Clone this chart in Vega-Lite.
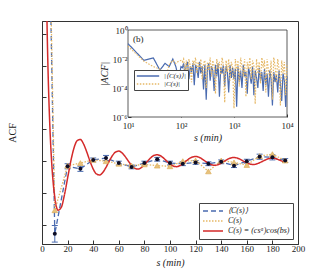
{
 "$schema": "https://vega.github.io/schema/vega-lite/v6.json",
 "width": 256, "height": 223,
 "autosize": {"type": "none"},
 "padding": {"left": 42, "top": 21, "right": 32, "bottom": 31},
 "background": "white",
 "config": {
  "font": "Liberation Serif",
  "view": {"stroke": "#333", "strokeWidth": 1},
  "axis": {"grid": false, "labelOverlap": false, "labelSeparation": -30, "labelFlush": false, "labelFont": "Liberation Serif", "titleFont": "Liberation Serif", "labelFontSize": 9, "titleFontSize": 10, "labelColor": "#222", "titleColor": "#222", "domainColor": "#333", "tickColor": "#333", "tickSize": -4, "labelPadding": 4, "titleFontWeight": "normal"},
  "legend": {"labelFont": "Liberation Serif", "labelFontSize": 8, "labelFontStyle": "italic", "labelColor": "#222", "symbolType": "stroke", "symbolSize": 400, "symbolStrokeWidth": 1.5, "strokeColor": "#444", "fillColor": "white", "padding": 3, "rowPadding": 0, "labelOffset": 4}
 },
 "datasets": {
  "yticks": [
   {"v": -0.1, "t": "-0.1"}, {"v": -0.05, "t": "-0.05"}, {"v": 0, "t": "0"}, {"v": 0.05, "t": "0.05"}, {"v": 0.1, "t": "0.1"}, {"v": 0.15, "t": "0.15"}, {"v": 0.2, "t": "0.2"}
  ],
  "main": [
   {"s": 0, "m": 1, "lo": null, "hi": null, "c": 1},
   {"s": 10, "m": -0.114, "lo": -0.127, "hi": -0.101, "c": -0.077},
   {"s": 20, "m": -0.008, "lo": -0.012, "hi": -0.004, "c": -0.007},
   {"s": 30, "m": -0.012, "lo": -0.016, "hi": -0.008, "c": -0.003},
   {"s": 40, "m": 0.002, "lo": -0.001, "hi": 0.005, "c": 0.002},
   {"s": 50, "m": 0.005, "lo": 0.001, "hi": 0.009, "c": 0.0},
   {"s": 60, "m": -0.003, "lo": -0.006, "hi": 0.0, "c": -0.004},
   {"s": 70, "m": -0.009, "lo": -0.012, "hi": -0.006, "c": -0.007},
   {"s": 80, "m": -0.003, "lo": -0.006, "hi": 0.0, "c": -0.005},
   {"s": 90, "m": 0.003, "lo": 0.0, "hi": 0.006, "c": -0.007},
   {"s": 100, "m": -0.003, "lo": -0.006, "hi": 0.0, "c": -0.008},
   {"s": 110, "m": -0.004, "lo": -0.007, "hi": -0.001, "c": 0.0},
   {"s": 120, "m": -0.002, "lo": -0.005, "hi": 0.001, "c": 0.001},
   {"s": 130, "m": -0.004, "lo": -0.007, "hi": -0.001, "c": -0.016},
   {"s": 140, "m": -0.001, "lo": -0.004, "hi": 0.002, "c": 0.001},
   {"s": 150, "m": -0.007, "lo": -0.01, "hi": -0.004, "c": -0.002},
   {"s": 160, "m": 0.0, "lo": -0.003, "hi": 0.003, "c": -0.006},
   {"s": 170, "m": 0.007, "lo": 0.003, "hi": 0.011, "c": 0.008},
   {"s": 180, "m": 0.006, "lo": 0.002, "hi": 0.01, "c": 0.011},
   {"s": 190, "m": 0.001, "lo": -0.002, "hi": 0.004, "c": 0.001}
  ],
  "fit": [
   {"s": 2.5, "f": 0.452}, {"s": 3, "f": 0.346}, {"s": 3.5, "f": 0.268}, {"s": 4, "f": 0.208}, {"s": 4.5, "f": 0.1607}, {"s": 5, "f": 0.1217}, {"s": 6, "f": 0.0616}, {"s": 7.5, "f": 0}, {"s": 9, "f": -0.0394}, {"s": 10, "f": -0.0568}, {"s": 12.5, "f": -0.077}, {"s": 15, "f": -0.0727}, {"s": 17.5, "f": -0.0532}, {"s": 20, "f": -0.0265}, {"s": 22.5, "f": 0}, {"s": 25, "f": 0.0207}, {"s": 27.5, "f": 0.0323}, {"s": 30, "f": 0.034}, {"s": 32.5, "f": 0.0269}, {"s": 35, "f": 0.0143}, {"s": 37.5, "f": 0}, {"s": 40, "f": -0.0124}, {"s": 42.5, "f": -0.02}, {"s": 45, "f": -0.0217}, {"s": 47.5, "f": -0.0177}, {"s": 50, "f": -0.0097}, {"s": 52.5, "f": 0}, {"s": 55, "f": 0.0087}, {"s": 57.5, "f": 0.0144}, {"s": 60, "f": 0.0158}, {"s": 62.5, "f": 0.0131}, {"s": 65, "f": 0.0072}, {"s": 67.5, "f": 0}, {"s": 70, "f": -0.0067}, {"s": 72.5, "f": -0.0111}, {"s": 75, "f": -0.0124}, {"s": 77.5, "f": -0.0103}, {"s": 80, "f": -0.0058}, {"s": 82.5, "f": 0}, {"s": 85, "f": 0.0054}, {"s": 87.5, "f": 0.0091}, {"s": 90, "f": 0.0101}, {"s": 92.5, "f": 0.0085}, {"s": 95, "f": 0.0048}, {"s": 97.5, "f": 0}, {"s": 100, "f": -0.0045}, {"s": 102.5, "f": -0.0076}, {"s": 105, "f": -0.0086}, {"s": 107.5, "f": -0.0072}, {"s": 110, "f": -0.0041}, {"s": 112.5, "f": 0}, {"s": 115, "f": 0.0039}, {"s": 117.5, "f": 0.0065}, {"s": 120, "f": 0.0074}, {"s": 122.5, "f": 0.0063}, {"s": 125, "f": 0.0035}, {"s": 127.5, "f": 0}, {"s": 130, "f": -0.0034}, {"s": 132.5, "f": -0.0057}, {"s": 135, "f": -0.0065}, {"s": 137.5, "f": -0.0055}, {"s": 140, "f": -0.0031}, {"s": 142.5, "f": 0}, {"s": 145, "f": 0.003}, {"s": 147.5, "f": 0.0051}, {"s": 150, "f": 0.0058}, {"s": 152.5, "f": 0.0049}, {"s": 155, "f": 0.0028}, {"s": 157.5, "f": 0}, {"s": 160, "f": -0.0027}, {"s": 162.5, "f": -0.0046}, {"s": 165, "f": -0.0052}, {"s": 167.5, "f": -0.0044}, {"s": 170, "f": -0.0025}, {"s": 172.5, "f": 0}, {"s": 175, "f": 0.0024}, {"s": 177.5, "f": 0.0042}, {"s": 180, "f": 0.0047}, {"s": 182.5, "f": 0.004}, {"s": 185, "f": 0.0023}, {"s": 187.5, "f": 0}, {"s": 190, "f": -0.0022}
  ],
  "ins": [
   {"s": 10, "b": 0.115, "o": 0.077}, {"s": 20, "b": 0.008, "o": 0.007}, {"s": 30, "b": 0.012, "o": 0.003}, {"s": 40, "b": 0.0017, "o": 0.002}, {"s": 50, "b": 0.005, "o": 0.0004}, {"s": 60, "b": 0.003, "o": 0.004}, {"s": 70, "b": 0.01, "o": 0.008}, {"s": 80, "b": 0.003, "o": 0.005}, {"s": 90, "b": 0.0004, "o": 0.007}, {"s": 100, "b": 0.003, "o": 0.008},
   {"s": 106, "b": 0.00251, "o": 0.00631}, {"s": 112, "b": 0.00501, "o": 0.01}, {"s": 119, "b": 0.000794, "o": 0.00126}, {"s": 126, "b": 0.00398, "o": 0.00794}, {"s": 133, "b": 0.00631, "o": 0.000501}, {"s": 141, "b": 0.000398, "o": 0.01}, {"s": 150, "b": 0.00316, "o": 0.00316}, {"s": 158, "b": 0.00126, "o": 0.000251}, {"s": 168, "b": 0.00501, "o": 0.00794}, {"s": 178, "b": 0.000158, "o": 0.00398},
   {"s": 188, "b": 0.00398, "o": 0.0126}, {"s": 200, "b": 0.002, "o": 0.001}, {"s": 211, "b": 0.000501, "o": 0.00631}, {"s": 224, "b": 0.00631, "o": 0.00251}, {"s": 237, "b": 0.001, "o": 0.01}, {"s": 251, "b": 0.00316, "o": 0.000398}, {"s": 266, "b": 0.0000794, "o": 0.00501}, {"s": 282, "b": 0.00398, "o": 0.00794}, {"s": 299, "b": 0.0000158, "o": 0.0001}, {"s": 316, "b": 0.00251, "o": 0.00631},
   {"s": 335, "b": 0.00501, "o": 0.00158}, {"s": 355, "b": 0.000316, "o": 0.0126}, {"s": 376, "b": 0.00316, "o": 0.000631}, {"s": 398, "b": 0.00158, "o": 0.00794}, {"s": 422, "b": 0.0000631, "o": 0.00316}, {"s": 447, "b": 0.00398, "o": 0.0000398}, {"s": 473, "b": 0.000631, "o": 0.01}, {"s": 501, "b": 0.00501, "o": 0.002}, {"s": 531, "b": 0.0000251, "o": 0.00631}, {"s": 562, "b": 0.00251, "o": 0.000794},
   {"s": 596, "b": 0.001, "o": 0.0126}, {"s": 631, "b": 0.00398, "o": 0.00398}, {"s": 668, "b": 0.000126, "o": 0.00001}, {"s": 708, "b": 0.00316, "o": 0.00794}, {"s": 750, "b": 0.00126, "o": 0.00126}, {"s": 794, "b": 0.0000501, "o": 0.01}, {"s": 841, "b": 0.00398, "o": 0.000316}, {"s": 891, "b": 0.000501, "o": 0.00631}, {"s": 944, "b": 0.00251, "o": 0.00251}, {"s": 1000, "b": 0.000398, "o": 0.00000398},
   {"s": 1059, "b": 0.002, "o": 0.01}, {"s": 1122, "b": 0.00000501, "o": 0.00158}, {"s": 1189, "b": 0.00316, "o": 0.00794}, {"s": 1259, "b": 0.000251, "o": 0.000126}, {"s": 1334, "b": 0.00158, "o": 0.0126}, {"s": 1413, "b": 0.0001, "o": 0.00316}, {"s": 1496, "b": 0.00398, "o": 0.000631}, {"s": 1585, "b": 0.000631, "o": 0.01}, {"s": 1679, "b": 0.00126, "o": 0.0000251}, {"s": 1778, "b": 0.0000398, "o": 0.00631},
   {"s": 1884, "b": 0.00251, "o": 0.002}, {"s": 1995, "b": 0.000794, "o": 0.0126}, {"s": 2113, "b": 0.0002, "o": 0.000398}, {"s": 2239, "b": 0.00316, "o": 0.00794}, {"s": 2371, "b": 0.0000316, "o": 0.00398}, {"s": 2512, "b": 0.00158, "o": 0.00000794}, {"s": 2661, "b": 0.000501, "o": 0.01}, {"s": 2818, "b": 0.0001, "o": 0.001}, {"s": 2985, "b": 0.00251, "o": 0.00631}, {"s": 3162, "b": 0.000316, "o": 0.0002},
   {"s": 3350, "b": 0.00126, "o": 0.0126}, {"s": 3548, "b": 0.0000631, "o": 0.00251}, {"s": 3758, "b": 0.002, "o": 0.00794}, {"s": 3981, "b": 0.000158, "o": 0.0000501}, {"s": 4217, "b": 0.001, "o": 0.01}, {"s": 4467, "b": 0.0000251, "o": 0.00158}, {"s": 4732, "b": 0.00158, "o": 0.000501}, {"s": 5012, "b": 0.000398, "o": 0.00794}, {"s": 5309, "b": 0.00000631, "o": 0.0000158}, {"s": 5623, "b": 0.00126, "o": 0.0126},
   {"s": 5957, "b": 0.000251, "o": 0.00316}, {"s": 6310, "b": 0.000794, "o": 0.000251}, {"s": 6683, "b": 0.0000501, "o": 0.01}, {"s": 7079, "b": 0.00158, "o": 0.002}, {"s": 7499, "b": 0.0002, "o": 0.00000631}, {"s": 7943, "b": 0.0000126, "o": 0.00794}, {"s": 8414, "b": 0.001, "o": 0.001}, {"s": 8913, "b": 0.000316, "o": 0.00631}, {"s": 9441, "b": 0.00000501, "o": 0.0000316}, {"s": 10000, "b": 0.000631, "o": 0.00501}
  ]
 },
 "layer": [
  {
   "encoding": {
    "x": {"field": "s", "type": "quantitative", "title": "s (min)", "scale": {"domain": [0, 200], "nice": false}, "axis": {"values": [0, 20, 40, 60, 80, 100, 120, 140, 160, 180, 200], "labelOverlap": false, "labelSeparation": -30, "title": "s (min)", "titleFontStyle": "italic", "titlePadding": 4}},
    "y": {"field": "m", "type": "quantitative", "title": "ACF", "scale": {"domain": [-0.13, 0.22], "nice": false, "zero": false}, "axis": {"values": [-0.1, -0.05, 0, 0.05, 0.1, 0.15, 0.2], "labels": false, "title": "ACF", "titlePadding": 24}}
   },
   "layer": [
    {
     "data": {"name": "main"},
     "mark": {"type": "line", "strokeWidth": 1.3, "clip": true},
     "encoding": {
      "color": {"datum": "⟨C(s)⟩", "scale": {"domain": ["⟨C(s)⟩", "C(s)", "C(s) = (csᵃ)cos(bs)"], "range": ["#4a6bb0", "#e6b866", "#d42a2a"]}, "legend": {"title": null, "orient": "bottom-right", "offset": 5, "clipHeight": 10}},
      "strokeDash": {"datum": "⟨C(s)⟩", "scale": {"domain": ["⟨C(s)⟩", "C(s)", "C(s) = (csᵃ)cos(bs)"], "range": [[5, 3], [1.5, 1.5], [1, 0]]}, "legend": {"title": null, "orient": "bottom-right", "offset": 5, "clipHeight": 10}}
     }
    },
    {
     "data": {"name": "yticks"},
     "mark": {"type": "text", "align": "right", "baseline": "middle", "dx": -6, "font": "Liberation Serif", "fontSize": 9, "color": "#222"},
     "encoding": {
      "x": {"datum": 0, "type": "quantitative"},
      "y": {"field": "v", "type": "quantitative", "title": "ACF"},
      "text": {"field": "t"}
     }
    },
    {
     "data": {"name": "main"},
     "transform": [{"filter": "isValid(datum.lo)"}],
     "mark": {"type": "rule", "color": "#4a6bb0", "strokeWidth": 1, "clip": true},
     "encoding": {
      "y": {"field": "lo", "type": "quantitative", "title": "ACF"},
      "y2": {"field": "hi"}
     }
    },
    {
     "data": {"name": "main"},
     "transform": [{"filter": "isValid(datum.lo)"}],
     "mark": {"type": "tick", "orient": "horizontal", "color": "#4a6bb0", "thickness": 1, "size": 6, "opacity": 1, "clip": true},
     "encoding": {
      "y": {"field": "lo", "type": "quantitative", "title": "ACF"}
     }
    },
    {
     "data": {"name": "main"},
     "transform": [{"filter": "isValid(datum.hi)"}],
     "mark": {"type": "tick", "orient": "horizontal", "color": "#4a6bb0", "thickness": 1, "size": 6, "opacity": 1, "clip": true},
     "encoding": {
      "y": {"field": "hi", "type": "quantitative", "title": "ACF"}
     }
    },
    {
     "data": {"name": "main"},
     "mark": {"type": "line", "strokeWidth": 1.3, "clip": true},
     "encoding": {
      "y": {"field": "c", "type": "quantitative", "title": "ACF"},
      "color": {"datum": "C(s)"},
      "strokeDash": {"datum": "C(s)"}
     }
    },
    {
     "data": {"name": "fit"},
     "mark": {"type": "line", "strokeWidth": 1.5, "clip": true, "interpolate": "monotone"},
     "encoding": {
      "y": {"field": "f", "type": "quantitative", "title": "ACF"},
      "color": {"datum": "C(s) = (csᵃ)cos(bs)"},
      "strokeDash": {"datum": "C(s) = (csᵃ)cos(bs)"}
     }
    },
    {
     "data": {"name": "main"},
     "mark": {"type": "point", "shape": "triangle-up", "filled": true, "fill": "#e8c27c", "stroke": "#d9a850", "strokeWidth": 0.6, "size": 32, "opacity": 1, "clip": true},
     "encoding": {
      "y": {"field": "c", "type": "quantitative", "title": "ACF"}
     }
    },
    {
     "data": {"name": "main"},
     "mark": {"type": "point", "shape": "circle", "filled": true, "color": "#0d0d26", "size": 16, "opacity": 1, "clip": true},
     "encoding": {
      "y": {"field": "m", "type": "quantitative", "title": "ACF"}
     }
    },
    {
     "data": {"values": [{"s": 15.6}]},
     "mark": {"type": "text", "text": "(a)", "font": "Liberation Serif", "fontSize": 9, "color": "#222"},
     "encoding": {
      "y": {"datum": 0.201, "type": "quantitative"}
     }
    }
   ]
  },
  {
   "layer": [
    {
     "data": {"values": [{}]},
     "mark": {"type": "rect", "fill": "white", "stroke": "#333", "strokeWidth": 0.8},
     "encoding": {
      "x": {"datum": 10, "type": "quantitative", "scale": {"type": "log", "domain": [10, 10000], "range": [86, 245]}, "axis": {"orient": "bottom", "offset": -127, "values": [10, 100, 1000, 10000], "labelOverlap": false, "labelPadding": 7, "labelExpr": "'10' + ['⁰','¹','²','³','⁴'][round(log(datum.value)/LN10)]", "title": "s (min)", "titleFontStyle": "italic", "titlePadding": 2, "tickSize": -3, "domain": false}},
      "x2": {"datum": 10000},
      "y": {"datum": 0.000001, "type": "quantitative", "scale": {"type": "log", "domain": [0.000001, 1], "range": [96, 9]}, "axis": {"orient": "left", "offset": -86, "values": [0.000001, 0.0001, 0.01, 1], "labelOverlap": false, "labelExpr": "'10' + ['⁰','⁻¹','⁻²','⁻³','⁻⁴','⁻⁵','⁻⁶'][round(-log(datum.value)/LN10)]", "title": "|ACF|", "titleFontStyle": "italic", "titlePadding": 2, "tickSize": -3, "domain": false}},
      "y2": {"datum": 1}
     }
    },
    {
     "data": {"name": "ins"},
     "mark": {"type": "line", "strokeWidth": 1.2},
     "encoding": {
      "x": {"field": "s", "type": "quantitative"},
      "y": {"field": "b", "type": "quantitative"},
      "color": {"datum": "|⟨C(s)⟩|", "scale": {"domain": ["|⟨C(s)⟩|", "|C(s)|"], "range": ["#4a6bb0", "#e6b866"]}, "legend": {"title": null, "orient": "none", "legendX": 92, "legendY": 49, "symbolSize": 500, "labelFontSize": 7, "clipHeight": 8, "padding": 2}},
      "strokeDash": {"datum": "|⟨C(s)⟩|", "scale": {"domain": ["|⟨C(s)⟩|", "|C(s)|"], "range": [[1, 0], [1.5, 1.5]]}, "legend": {"title": null, "orient": "none", "legendX": 92, "legendY": 49, "symbolSize": 500, "labelFontSize": 7, "clipHeight": 8, "padding": 2}}
     }
    },
    {
     "data": {"name": "ins"},
     "mark": {"type": "line", "strokeWidth": 1.2},
     "encoding": {
      "x": {"field": "s", "type": "quantitative"},
      "y": {"field": "o", "type": "quantitative"},
      "color": {"datum": "|C(s)|"},
      "strokeDash": {"datum": "|C(s)|"}
     }
    },
    {
     "data": {"values": [{}]},
     "mark": {"type": "text", "text": "(b)", "font": "Liberation Serif", "fontSize": 9, "color": "#222", "align": "left"},
     "encoding": {
      "x": {"datum": 12.4, "type": "quantitative"},
      "y": {"datum": 0.24, "type": "quantitative"}
     }
    }
   ]
  }
 ],
 "resolve": {"scale": {"x": "independent", "y": "independent", "color": "independent", "strokeDash": "independent"}, "axis": {"x": "independent", "y": "independent"}, "legend": {"color": "independent", "strokeDash": "independent"}}
}
